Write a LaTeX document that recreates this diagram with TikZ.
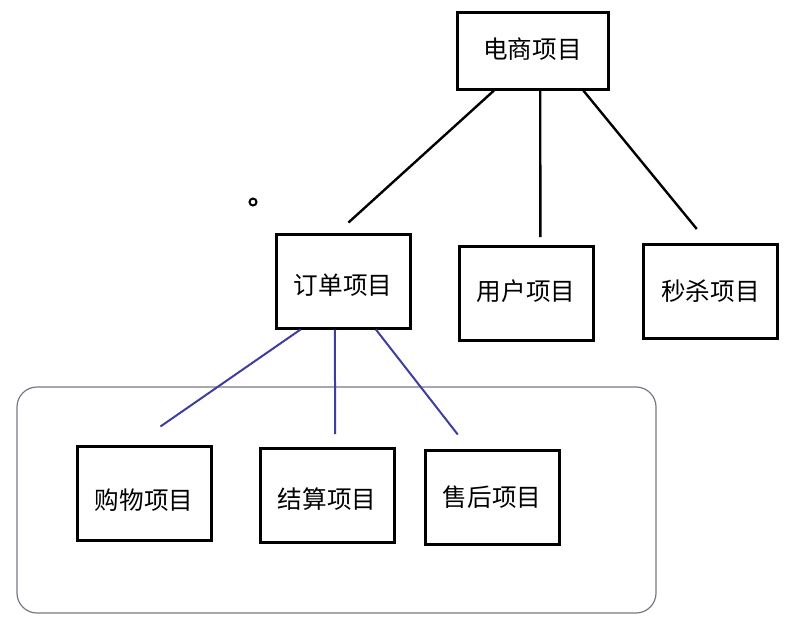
\documentclass[tikz,border=0pt]{standalone}
\usepackage{fontspec}
\newfontfamily\cjk{Noto Sans CJK SC}
\usetikzlibrary{calc,positioning}
\definecolor{linkblue}{RGB}{62,62,158}
\definecolor{framegray}{RGB}{120,120,132}

\begin{document}
\begin{tikzpicture}[x=0.5pt, y=-0.5pt,
    proj/.style={draw=black, line width=1.5pt, fill=white, minimum width=67pt, minimum height=47pt,
      inner sep=0pt, text height=10pt, text depth=2pt, font=\cjk\fontsize{12.3}{14}\selectfont},
    toplink/.style={black, line width=1.2pt},
    sublink/.style={linkblue, line width=1pt}]
    \useasboundingbox (0,0) rectangle (798,623);
    % Group frame for the order sub-projects
    \draw[framegray, line width=0.6pt, rounded corners=10] (17,387) rectangle (656,613);
    % Top level
    \node[proj, minimum width=75.5pt, minimum height=38.5pt] (dianshang) at (532.5,50.5) {电商项目};
    % Second level
    \node[proj, text height=15pt] (dingdan) at (343,281) {订单项目};
    \node[proj, text height=9pt] (yonghu) at (526,293.5) {用户项目};
    \node[proj, text height=11pt] (miaosha) at (710.5,291.5) {秒杀项目};
    % Third level (inside the frame)
    \node[proj, text height=18pt] (gouwu) at (144,493) {购物项目};
    \node[proj, text height=15pt] (jiesuan) at (327,495.5) {结算项目};
    \node[proj, text height=11pt] (shouhou) at (492,497) {售后项目};
    % Connectors, top level
    \draw[toplink] ($(dianshang.south west)!.25!(dianshang.south east)$) -- ($(dingdan.north west)!.54!(dingdan.north east)+(0,-10)$);
    \draw[toplink] ($(dianshang.south west)!.55!(dianshang.south east)$) -- ($(yonghu.north west)!.605!(yonghu.north east)+(0,-8)$);
    \draw[toplink] ($(dianshang.south west)!.83!(dianshang.south east)$) -- ($(miaosha.north west)!.40!(miaosha.north east)+(0,-14)$);
    % Connectors, order project
    \draw[sublink] ($(dingdan.south west)!.19!(dingdan.south east)$) -- ($(gouwu.north west)!.62!(gouwu.north east)+(0,-18)$);
    \draw[sublink] ($(dingdan.south west)!.44!(dingdan.south east)$) -- ($(jiesuan.north west)!.56!(jiesuan.north east)+(0,-13)$);
    \draw[sublink] ($(dingdan.south west)!.74!(dingdan.south east)$) -- ($(shouhou.north west)!.25!(shouhou.north east)+(0,-14)$);
    % Stray marker
    \draw[line width=1pt] (253,202) circle (3.5);
\end{tikzpicture}
\end{document}
